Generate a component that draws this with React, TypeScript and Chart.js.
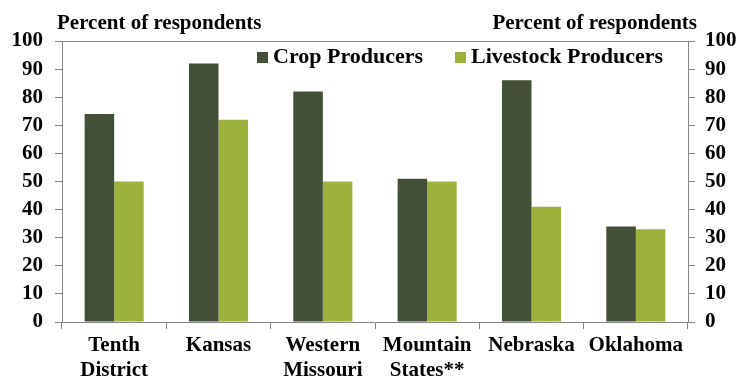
import React, { useEffect, useRef } from "react";
import { Chart, registerables } from "chart.js";

Chart.register(...registerables);

const categories: (string | string[])[] = [
  ["Tenth", "District"],
  "Kansas",
  ["Western", "Missouri"],
  ["Mountain", "States**"],
  "Nebraska",
  "Oklahoma",
];
const cropProducers = [74, 92, 82, 51, 86, 34];
const livestockProducers = [50, 72, 50, 50, 41, 33];
const seriesNames = ["Crop Producers", "Livestock Producers"];
const axisTitle = "Percent of respondents";
const yMin = 0;
const yMax = 100;
const yStep = 10;

const FONT = '"Liberation Serif", "Times New Roman", serif';
const DARK = "#434f36";
const LIGHT = "#9cb23d";
const AXIS = "#868686";

const overlay = {
  id: "overlay",
  afterDraw(chart: any) {
    const { ctx, chartArea } = chart;
    ctx.save();
    // top border of plot area
    ctx.strokeStyle = AXIS;
    ctx.lineWidth = 1;
    ctx.beginPath();
    ctx.moveTo(chartArea.left, chartArea.top + 0.5);
    ctx.lineTo(chartArea.right, chartArea.top + 0.5);
    ctx.stroke();
    // axis titles
    ctx.fillStyle = "#000";
    ctx.font = `bold 21px ${FONT}`;
    ctx.textBaseline = "alphabetic";
    ctx.textAlign = "left";
    ctx.fillText(axisTitle, 57, 29);
    ctx.textAlign = "right";
    ctx.fillText(axisTitle, 697, 29);
    // legend
    const ds = chart.data.datasets;
    const boxX = [chartArea.left + 195, chartArea.left + 393];
    ctx.font = `bold 22px ${FONT}`;
    ctx.textAlign = "left";
    ds.forEach((d: any, i: number) => {
      ctx.fillStyle = d.backgroundColor;
      ctx.fillRect(boxX[i], 52, 11, 11);
      ctx.fillStyle = "#000";
      ctx.fillText(d.label, boxX[i] + 16, 63);
    });
    ctx.restore();
  },
};

export default function App() {
  const ref = useRef<HTMLCanvasElement>(null);
  useEffect(() => {
    document.body.style.margin = "0";
    const tickFont = { family: FONT, size: 21, weight: "bold" as const, lineHeight: 1.2 };
    const chart = new Chart(ref.current!, {
      type: "bar",
      data: {
        labels: categories,
        datasets: [
          {
            label: seriesNames[0],
            data: cropProducers,
            backgroundColor: DARK,
            barPercentage: 1,
            categoryPercentage: 0.566,
          },
          {
            label: seriesNames[1],
            data: livestockProducers,
            backgroundColor: LIGHT,
            barPercentage: 1,
            categoryPercentage: 0.566,
          },
        ],
      },
      options: {
        responsive: false,
        animation: false,
        layout: { padding: { top: 41, left: 0, right: 0, bottom: 0 } },
        plugins: { legend: { display: false }, tooltip: { enabled: false } },
        scales: {
          x: {
            grid: { drawOnChartArea: false, tickLength: 7, color: AXIS, offset: true },
            border: { color: AXIS },
            ticks: { font: tickFont, color: "#000", padding: 4, maxRotation: 0, autoSkip: false },
            afterFit: (s: any) => {
              s.height = 57;
            },
          },
          y: {
            position: "left",
            min: yMin,
            max: yMax,
            ticks: { stepSize: yStep, autoSkip: false, font: tickFont, color: "#000", padding: 12 },
            grid: { drawOnChartArea: false, tickLength: 7, color: AXIS },
            border: { color: AXIS },
            afterFit: (s: any) => {
              s.width = 62;
            },
          },
          y2: {
            position: "right",
            min: yMin,
            max: yMax,
            ticks: { stepSize: yStep, autoSkip: false, font: tickFont, color: "#000", padding: 10 },
            grid: { drawOnChartArea: false, tickLength: 7, color: AXIS },
            border: { color: AXIS },
            afterFit: (s: any) => {
              s.width = 54;
            },
          },
        },
      },
      plugins: [overlay],
    });
    return () => chart.destroy();
  }, []);
  return <canvas ref={ref} width={742} height={379} style={{ display: "block" }} />;
}
